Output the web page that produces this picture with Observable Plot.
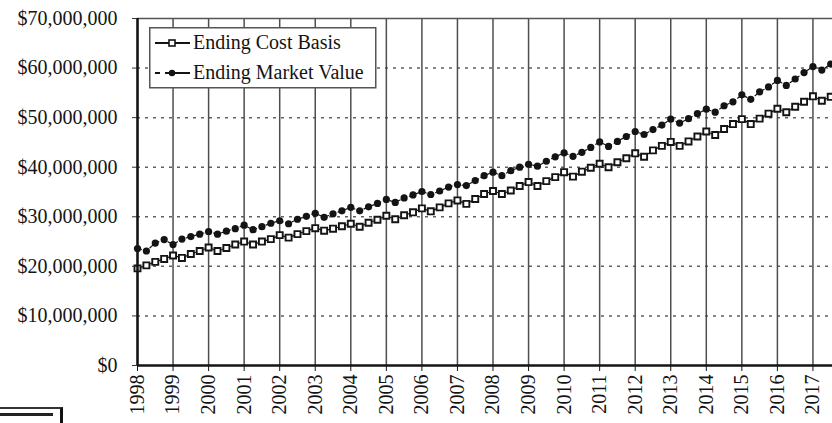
<!DOCTYPE html>
<html>
<head>
<meta charset="utf-8">
<script src="https://cdn.jsdelivr.net/npm/d3@7"></script>
<script src="https://cdn.jsdelivr.net/npm/@observablehq/plot@0.6"></script>
<style>
html, body { margin: 0; padding: 0; background: #fff; }
#wrap { position: relative; width: 832px; height: 423px; overflow: hidden;
  font-family: "Liberation Serif", "Times New Roman", serif; }
#frag { position: absolute; left: -2px; top: 407px; width: 62px; height: 20px;
  border-top: 2px solid #333; border-right: 3px solid #111; }
#frag2 { position: absolute; left: 0px; top: 413px; width: 53px; height: 0;
  border-top: 3px solid #222; }
</style>
</head>
<body>
<div id="wrap"></div>
<script>
// ---- data (values in $ millions, quarterly, starting 1998) ----
const years = [1998, 1999, 2000, 2001, 2002, 2003, 2004, 2005, 2006, 2007,
               2008, 2009, 2010, 2011, 2012, 2013, 2014, 2015, 2016, 2017];
const quarterStep = 0.25;
const costBasis = [
  19.6, 20.2, 20.9, 21.5,
  22.2, 21.7, 22.5, 23.1,
  23.8, 23.1, 23.7, 24.4,
  25.0, 24.4, 25.0, 25.5,
  26.3, 25.8, 26.5, 27.1,
  27.7, 27.2, 27.6, 28.1,
  28.6, 28.0, 28.8, 29.4,
  30.2, 29.5, 30.3, 30.9,
  31.7, 31.1, 31.9, 32.7,
  33.3, 32.6, 33.6, 34.6,
  35.2, 34.6, 35.3, 36.2,
  37.0, 36.2, 37.2, 38.0,
  39.0, 38.1, 39.1, 39.9,
  40.7, 40.0, 41.0, 41.8,
  42.8, 42.1, 43.4, 44.3,
  45.1, 44.3, 45.2, 46.2,
  47.2, 46.5, 47.7, 48.7,
  49.7, 48.7, 49.8, 50.8,
  51.8, 51.1, 52.2, 53.2,
  54.3, 53.4, 54.2
];
const marketValue = [
  23.6, 23.1, 24.7, 25.4,
  24.4, 25.5, 26.0, 26.5,
  27.0, 26.5, 27.1, 27.6,
  28.3, 27.4, 28.0, 28.7,
  29.2, 28.6, 29.5, 30.1,
  30.7, 29.9, 30.6, 31.2,
  31.9, 31.2, 32.0, 32.7,
  33.5, 32.9, 33.8, 34.4,
  35.1, 34.5, 35.2, 36.0,
  36.5, 36.3, 37.3, 38.3,
  39.0, 38.3, 39.3, 40.0,
  40.6, 40.2, 41.2, 42.1,
  42.9, 42.2, 43.0, 44.0,
  45.1, 44.2, 45.2, 46.2,
  47.2, 46.6, 47.6, 48.5,
  49.7, 48.9, 49.8, 50.8,
  51.7, 51.1, 52.4, 53.2,
  54.6, 53.7, 55.2, 56.2,
  57.5, 56.5, 57.8, 59.1,
  60.3, 59.6, 60.8
];
const yTicks = [0, 10e6, 20e6, 30e6, 40e6, 50e6, 60e6, 70e6];
const seriesNames = ["Ending Cost Basis", "Ending Market Value"];

// ---- table built from the arrays ----
const rows = costBasis.map((v, i) => ({
  t: years[0] + i * quarterStep,
  cb: v * 1e6,
  mv: marketValue[i] * 1e6
}));

const FONT = "Liberation Serif, Times New Roman, serif";
const INK = "#141414";

const chart = Plot.plot({
  width: 832,
  height: 423,
  marginLeft: 137,
  marginRight: 0,
  marginTop: 18,
  marginBottom: 58,
  style: { fontFamily: FONT, fontSize: "20px", color: INK, background: "transparent", overflow: "visible" },
  x: { domain: [1998, 2017.55], axis: null, label: null },
  y: { domain: [0, 70e6], axis: null, label: null },
  marks: [
    Plot.gridX(years, { stroke: "#4e4e4e", strokeOpacity: 1, strokeWidth: 1.5 }),
    Plot.gridY(yTicks.slice(1, -1), { stroke: "#444", strokeOpacity: 0.85, strokeWidth: 1.5, strokeDasharray: "3,5" }),
    Plot.ruleY(yTicks.slice(-1), { stroke: "#555", strokeWidth: 1.5 }),
    Plot.line(rows, { x: "t", y: "cb", stroke: INK, strokeWidth: 1.2 }),
    Plot.line(rows, { x: "t", y: "mv", stroke: INK, strokeWidth: 1.2, strokeDasharray: "4,3" }),
    Plot.dot(rows, { x: "t", y: "cb", symbol: "square", r: 3.4, fill: "white", stroke: INK, strokeWidth: 1.9 }),
    Plot.dot(rows, { x: "t", y: "mv", r: 3.6, fill: INK, stroke: "none" }),
    Plot.axisY(yTicks, { label: null, tickSize: 5, tickPadding: 15, tickFormat: d3.format("$,"), fontSize: 20, stroke: "#333", fill: INK }),
    Plot.axisX(years, { label: null, tickSize: 6, tickPadding: 3, tickRotate: -90, tickFormat: d => String(d), fontSize: 20, stroke: INK, fill: INK }),
    Plot.ruleX(years.slice(0, 1), { stroke: INK, strokeWidth: 2.5 }),
    Plot.ruleY(yTicks.slice(0, 1), { stroke: INK, strokeWidth: 2.5 })
  ]
});

const wrap = document.getElementById("wrap");
wrap.appendChild(chart);

// ---- legend ----
const ns = "http://www.w3.org/2000/svg";
const lg = document.createElementNS(ns, "svg");
lg.setAttribute("width", 228);
lg.setAttribute("height", 62);
lg.style.position = "absolute";
lg.style.left = "149px";
lg.style.top = "27px";
const sel = d3.select(lg);
sel.append("rect").attr("x", 0.75).attr("y", 0.75).attr("width", 226).attr("height", 60)
  .attr("fill", "white").attr("stroke", "#555").attr("stroke-width", 1.5);
// row 1: cost basis
sel.append("line").attr("x1", 6).attr("x2", 41).attr("y1", 16).attr("y2", 16)
  .attr("stroke", INK).attr("stroke-width", 1.8);
sel.append("rect").attr("x", 20).attr("y", 13).attr("width", 6).attr("height", 6)
  .attr("fill", "white").attr("stroke", INK).attr("stroke-width", 1.6);
sel.append("text").attr("x", 44).attr("y", 22).attr("font-family", FONT).attr("font-size", 20)
  .attr("fill", INK).text(seriesNames[0]);
// row 2: market value
sel.append("line").attr("x1", 6).attr("x2", 41).attr("y1", 46).attr("y2", 46)
  .attr("stroke", INK).attr("stroke-width", 1.8).attr("stroke-dasharray", "5,5,30");
sel.append("circle").attr("cx", 23).attr("cy", 46).attr("r", 3.2).attr("fill", INK);
sel.append("text").attr("x", 44).attr("y", 52).attr("font-family", FONT).attr("font-size", 20)
  .attr("fill", INK).text(seriesNames[1]);
wrap.appendChild(lg);

// scanned page fragment in the bottom-left corner
const frag = document.createElement("div"); frag.id = "frag"; wrap.appendChild(frag);
const frag2 = document.createElement("div"); frag2.id = "frag2"; wrap.appendChild(frag2);
</script>
</body>
</html>
